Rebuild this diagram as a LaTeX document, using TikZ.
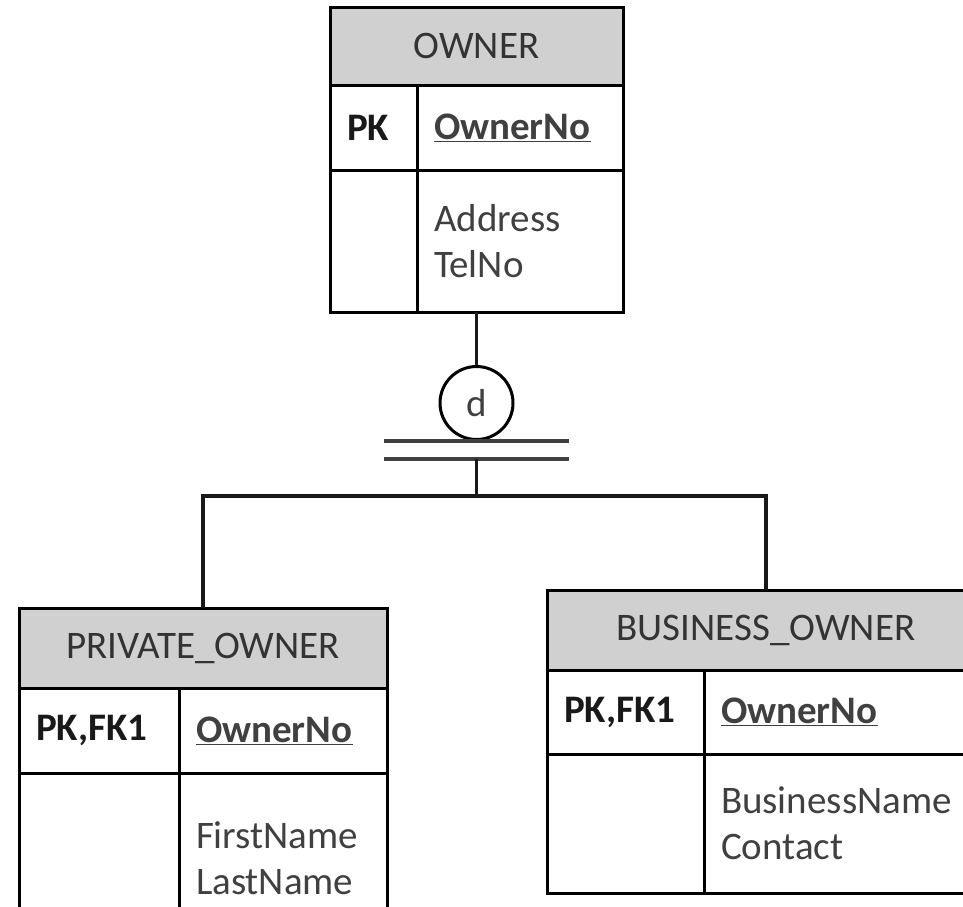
\documentclass[tikz,border=0pt]{standalone}
\usepackage{fontspec}
\setmainfont{Carlito}
\usetikzlibrary{positioning,calc}

\definecolor{headgray}{RGB}{208,208,208}
\definecolor{inkgray}{RGB}{64,64,64}

\begin{document}
\begin{tikzpicture}[
    x=1pt, y=-1pt,
    font=\fontsize{39}{46}\selectfont,
    head/.style={rectangle, draw, line width=3pt, outer sep=0pt, fill=headgray, text=black!80, minimum height=80pt},
    keycell/.style={rectangle, draw, line width=3pt, outer sep=0pt, inner xsep=17pt, text width=#1, align=left, font=\fontsize{39}{46}\selectfont\bfseries, text=black!90},
    fieldcell/.style={rectangle, draw, line width=3pt, outer sep=0pt, inner xsep=17pt, text width=#1, align=left, text=inkgray},
    disjoint/.style={circle, draw, line width=3pt, minimum size=73pt, inner sep=0pt, text=inkgray},
    link/.style={line width=3.5pt, black!90},
    bar/.style={line width=4pt, black!75}
]
\useasboundingbox (0,0) rectangle (963,906);
\clip (0,0) rectangle (963,906);

% supertype
\node[head, minimum width=293pt, minimum height=78pt, anchor=north west] (owner) at (330,7) {OWNER};
\node[keycell=53pt, minimum height=85pt, anchor=north west] (owner-pk) at (owner.south west) {PK};
\node[fieldcell=172pt, minimum height=85pt, anchor=north west] (owner-key) at (owner-pk.north east) {\underline{\textbf{OwnerNo}}};
\node[keycell=53pt, minimum height=142pt, anchor=north west] (owner-fk) at (owner-pk.south west) {};
\node[fieldcell=172pt, minimum height=142pt, anchor=north west] (owner-attr) at (owner-fk.north east) {Address\\TelNo};

% subtypes
\node[head, minimum width=368pt, anchor=north west] (private) at (19,608) {PRIVATE\_OWNER};
\node[keycell=126pt, minimum height=85pt, anchor=north west] (private-pk) at (private.south west) {PK,FK1};
\node[fieldcell=174pt, minimum height=85pt, anchor=north west] (private-key) at (private-pk.north east) {\underline{\textbf{OwnerNo}}};
\node[keycell=126pt, minimum height=170pt, anchor=north west] (private-fk) at (private-pk.south west) {};
\node[fieldcell=174pt, minimum height=170pt, anchor=north west] (private-attr) at (private-fk.north east) {FirstName\\LastName};

\node[head, minimum width=438pt, anchor=north west] (business) at (547,590) {BUSINESS\_OWNER};
\node[keycell=123pt, minimum height=84pt, anchor=north west] (business-pk) at (business.south west) {PK,FK1};
\node[fieldcell=247pt, minimum height=84pt, anchor=north west] (business-key) at (business-pk.north east) {\underline{\textbf{OwnerNo}}};
\node[keycell=123pt, minimum height=139pt, anchor=north west] (business-fk) at (business-pk.south west) {};
\node[fieldcell=247pt, minimum height=139pt, anchor=north west] (business-attr) at (business-fk.north east) {BusinessName\\Contact};

% disjoint specialisation
\node[disjoint] (dj) at (owner.center |- 0,403) {d};
\coordinate (owner-foot) at (owner.center |- owner-attr.south);
\coordinate (fork) at ([yshift=-18pt]dj.south);
\coordinate (split) at ([yshift=-37pt]fork);

\draw[link] (owner-foot) -- (dj);
\draw[bar] ([xshift=-93pt]dj.south) -- ([xshift=92pt]dj.south);
\draw[bar] ([xshift=-93pt]fork) -- ([xshift=92pt]fork);
\draw[link] (fork) -- (split);
\draw[link] (private.north) |- (split) -| (business.north);

\end{tikzpicture}
\end{document}
